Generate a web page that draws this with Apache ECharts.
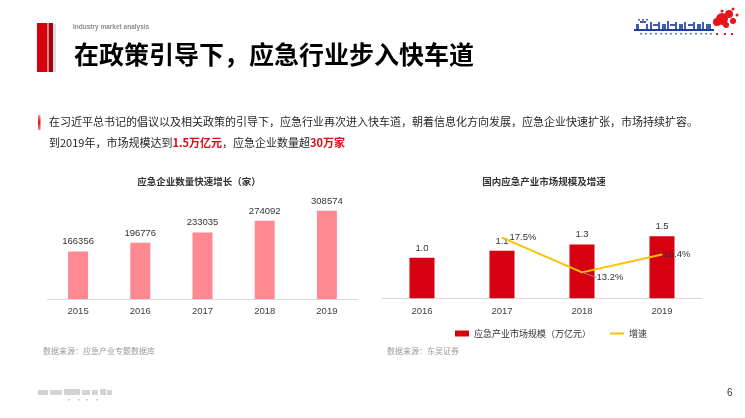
<!DOCTYPE html>
<html>
<head>
<meta charset="utf-8">
<script src="https://cdn.jsdelivr.net/npm/echarts@6/dist/echarts.min.js"></script>
<style>
html,body{margin:0;padding:0;background:#fff;}
#main{width:745px;height:418px;}
</style>
</head>
<body>
<div id="main"></div>
<script>
// ---- data ----
const leftYears = ['2015', '2016', '2017', '2018', '2019'];
const companyCounts = [166356, 196776, 233035, 274092, 308574];
const rightYears = ['2016', '2017', '2018', '2019'];
const marketSize = [1.0, 1.175, 1.33, 1.535];
const growthRate = [null, 17.5, 13.2, 15.4];

const leftTitle = '应急企业数量快速增长（家）';
const rightTitle = '国内应急产业市场规模及增速';
const barName = '应急产业市场规模（万亿元）';
const lineName = '增速';

const CJK = '"Noto Sans CJK SC", "Microsoft YaHei", sans-serif';
const NUM = '"Liberation Sans", Arial, "Noto Sans CJK SC", sans-serif';

const chart = echarts.init(document.getElementById('main'));

// decorative logo pixels (top right)
const logo = [];
const blue = '#1f3f9e';
[[636,24,3,7],[640,21,6,2],[646,24,2,6],[650,22,2,8],[653,24,5,2],[658,22,2,8],[662,24,4,6],[667,21,2,9],[670,24,5,2],[675,22,2,8],[679,24,4,6],[684,22,2,8],[688,24,5,2],[693,22,2,8],[697,24,4,6],[702,22,2,8],[706,24,5,6]].forEach(r=>{
  logo.push({type:'rect',shape:{x:r[0],y:r[1],width:r[2],height:r[3]},style:{fill:blue,opacity:0.85}});
});
logo.push({type:'rect',shape:{x:634,y:29,width:80,height:2},style:{fill:blue}});
for(let x=640;x<712;x+=5){logo.push({type:'rect',shape:{x:x,y:33,width:2,height:1.5},style:{fill:blue,opacity:0.7}});}
for(let x=638;x<650;x+=4){logo.push({type:'rect',shape:{x:x,y:19,width:2,height:1.5},style:{fill:blue,opacity:0.8}});}
[[722,19,6],[729,14,4],[717,22,4],[733,21,3],[726,25,3],[733,9,1.5],[722,11,1.5],[737,15,1.5]].forEach(c=>{
  logo.push({type:'circle',shape:{cx:c[0],cy:c[1],r:c[2]},style:{fill:'#e8141c'}});
});
[[716,33],[724,33],[731,33]].forEach(p=>{logo.push({type:'rect',shape:{x:p[0],y:p[1],width:2,height:2},style:{fill:'#e8141c'}});});

// faint bottom-left logo
const footLogo = [];
[[38,390,10,5],[50,390,12,5],[64,389,16,6],[82,390,8,5],[92,390,6,5],[100,389,6,6],[107,390,5,5]].forEach(r=>{
  footLogo.push({type:'rect',shape:{x:r[0],y:r[1],width:r[2],height:r[3]},style:{fill:'#c8c8c8',opacity:0.8}});
});
[[68,399],[78,399],[86,399],[96,399]].forEach(p=>{footLogo.push({type:'rect',shape:{x:p[0],y:p[1],width:2,height:1.5},style:{fill:'#cfcfcf'}});});

const option = {
  backgroundColor: '#ffffff',
  animation: false,
  textStyle: { fontFamily: CJK },
  legend: {
    data: [
      { name: barName, icon: 'rect' },
      { name: lineName, icon: 'path://M0,0H14V2H0Z', itemStyle: { color: '#ffc000' } }
    ],
    left: 450,
    top: 324,
    itemWidth: 14,
    itemHeight: 6,
    itemGap: 19,
    textStyle: { fontSize: 9, color: '#333', fontFamily: CJK }
  },
  grid: [
    { left: 47, width: 311, top: 199, height: 100 },
    { left: 382, width: 320, top: 217.3, height: 81 }
  ],
  xAxis: [
    {
      type: 'category', gridIndex: 0, data: leftYears,
      axisLine: { lineStyle: { color: '#d9d9d9', width: 1 } },
      axisTick: { show: false },
      axisLabel: { fontSize: 9.5, color: '#404040', fontFamily: NUM, margin: 8 }
    },
    {
      type: 'category', gridIndex: 1, data: rightYears,
      axisLine: { lineStyle: { color: '#d9d9d9', width: 1 } },
      axisTick: { show: false },
      axisLabel: { fontSize: 9.5, color: '#404040', fontFamily: NUM, margin: 8 }
    }
  ],
  yAxis: [
    { type: 'value', gridIndex: 0, min: 0, max: 350000, show: false },
    { type: 'value', gridIndex: 1, min: 0, max: 2, show: false },
    { type: 'value', gridIndex: 1, min: 10, max: 20, show: false }
  ],
  series: [
    {
      type: 'bar', xAxisIndex: 0, yAxisIndex: 0,
      data: companyCounts,
      barWidth: 20,
      itemStyle: { color: '#ff8891' },
      label: { show: true, position: 'top', distance: 5, fontSize: 9.5, color: '#333', fontFamily: NUM }
    },
    {
      name: barName,
      type: 'bar', xAxisIndex: 1, yAxisIndex: 1,
      data: marketSize,
      barWidth: 25,
      itemStyle: { color: '#d7000f' },
      label: {
        show: true, position: 'top', distance: 5, fontSize: 9.5, color: '#333', fontFamily: NUM,
        formatter: p => (Math.floor(p.value * 10 + 1e-6) / 10).toFixed(1)
      }
    },
    {
      name: lineName,
      type: 'line', xAxisIndex: 1, yAxisIndex: 2,
      data: growthRate.map((v, i) => {
        if (v === null) return null;
        const item = { value: v };
        if (i === 1) item.label = { distance: 7 };
        if (i === 2) {
          item.label = { distance: 14 };
          item.labelLine = { show: true, lineStyle: { color: '#8c8c8c', width: 1 } };
        }
        if (i === 3) item.label = { distance: 1 };
        return item;
      }),
      symbol: 'circle',
      symbolSize: 1,
      showSymbol: true,
      itemStyle: { color: '#ffc000' },
      lineStyle: { color: '#ffc000', width: 2 },
      label: {
        show: true, position: 'right', fontSize: 9.5, color: '#333', fontFamily: NUM,
        formatter: p => p.value.toFixed(1) + '%'
      },
      labelLayout: p => (p.dataIndex === 2 ? { dy: 5 } : {}),
      z: 5
    }
  ],
  graphic: [
    // header bar
    { type: 'rect', shape: { x: 53, y: 24, width: 3, height: 48 }, style: { fill: '#c8c8c8', opacity: 0.6 } },
    { type: 'rect', shape: { x: 48.5, y: 23, width: 4.5, height: 49 }, style: { fill: '#a8000c' } },
    { type: 'rect', shape: { x: 37, y: 23, width: 10.5, height: 49 }, style: { fill: '#d7000f' } },
    { type: 'text', left: 73, top: 24, style: { text: 'Industry market analysis', fontSize: 6.5, fontWeight: 'bold', fill: '#8c8c8c', fontFamily: NUM } },
    { type: 'text', left: 74, top: 42, style: { text: '在政策引导下，应急行业步入快车道', fontSize: 25, fontWeight: 'bold', fill: '#000', fontFamily: CJK } },
    // paragraph
    { type: 'rect', shape: { x: 38, y: 115, width: 2.5, height: 15 },
      style: { fill: new echarts.graphic.LinearGradient(0, 0, 0, 1, [{ offset: 0, color: '#f29097' }, { offset: 0.5, color: '#e0101c' }, { offset: 1, color: '#f08890' }]) } },
    { type: 'text', left: 49, top: 116, style: { text: '在习近平总书记的倡议以及相关政策的引导下，应急行业再次进入快车道，朝着信息化方向发展，应急企业快速扩张，市场持续扩容。', fontSize: 11, fill: '#262626', fontFamily: CJK } },
    { type: 'text', left: 49, top: 137, style: {
        text: '到2019年，市场规模达到{r|1.5万亿元}，应急企业数量超{r|30万家}',
        fontSize: 11, fill: '#262626', fontFamily: CJK,
        rich: { r: { fontSize: 11, fontWeight: 'bold', fill: '#e60012', fontFamily: CJK } }
      } },
    // chart titles
    { type: 'text', x: 199, y: 181, style: { text: leftTitle, fontSize: 9.5, fontWeight: 'bold', fill: '#333', fontFamily: CJK, align: 'center', verticalAlign: 'middle' } },
    { type: 'text', x: 544, y: 181, style: { text: rightTitle, fontSize: 9.5, fontWeight: 'bold', fill: '#333', fontFamily: CJK, align: 'center', verticalAlign: 'middle' } },
    // sources
    { type: 'text', x: 43, y: 351, style: { text: '数据来源：应急产业专题数据库', fontSize: 8, fill: '#999', fontFamily: CJK, verticalAlign: 'middle' } },
    { type: 'text', x: 387, y: 351, style: { text: '数据来源：东吴证券', fontSize: 8, fill: '#999', fontFamily: CJK, verticalAlign: 'middle' } },
    // page number
    { type: 'text', x: 727, y: 393, style: { text: '6', fontSize: 10, fill: '#333', fontFamily: NUM, verticalAlign: 'middle' } },
    { type: 'group', children: logo },
    { type: 'group', children: footLogo }
  ]
};
chart.setOption(option);
</script>
</body>
</html>
